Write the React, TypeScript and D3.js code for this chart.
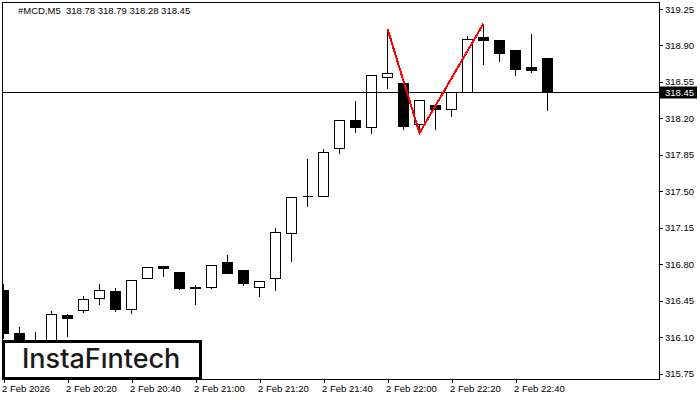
import * as React from 'react'
import { useEffect, useRef } from 'react'
import * as d3 from 'd3'

const width = 700
const height = 400

// candle values, one per 5 minutes from 20:00
const opens = [316.55, 316.14, 316.03, 316.03, 316.31, 316.36, 316.48, 316.54, 316.37, 316.67, 316.78, 316.73, 316.58, 316.58, 316.82, 316.75, 316.58, 316.67, 317.10, 317.46, 317.46, 317.92, 318.18, 318.12, 318.60, 318.54, 318.15, 318.33, 318.29, 318.45, 318.98, 318.95, 318.86, 318.69, 318.78]
const highs = [316.62, 316.21, 316.16, 316.36, 316.33, 316.51, 316.62, 316.58, 316.65, 316.78, 316.78, 316.74, 316.61, 316.79, 316.90, 316.75, 316.64, 317.16, 317.46, 317.82, 317.92, 318.19, 318.38, 318.62, 319.06, 318.54, 318.38, 318.33, 318.46, 319.00, 319.11, 318.95, 318.86, 319.02, 318.79]
const lows = [316.09, 315.98, 315.98, 316.00, 316.11, 316.34, 316.42, 316.35, 316.33, 316.67, 316.69, 316.56, 316.42, 316.57, 316.72, 316.60, 316.50, 316.55, 316.83, 317.36, 317.46, 317.87, 318.07, 318.06, 318.49, 318.10, 318.06, 318.10, 318.22, 318.45, 318.72, 318.75, 318.62, 318.65, 318.28]
const closes = [316.14, 316.03, 316.06, 316.32, 316.28, 316.47, 316.55, 316.37, 316.65, 316.77, 316.76, 316.57, 316.57, 316.79, 316.72, 316.62, 316.64, 317.11, 317.45, 317.46, 317.88, 318.18, 318.12, 318.62, 318.64, 318.13, 318.38, 318.29, 318.45, 318.96, 318.95, 318.83, 318.67, 318.66, 318.45]

const priceTicks = [319.25, 318.9, 318.55, 318.2, 317.85, 317.5, 317.15, 316.8, 316.45, 316.1, 315.75]
const timeTicks = [0, 4, 8, 12, 16, 20, 24, 28, 32]
const patternIndex = [24, 26, 30]
const patternPrice = [319.06, 318.06, 319.11]
const lastPrice = 318.45
const title = '#MCD,M5  318.78 318.79 318.28 318.45'

const startTime = new Date(2026, 1, 2, 20, 0)
const timeAt = (i: number) => d3.timeMinute.offset(startTime, i * 5)

const labelFont = '"Liberation Sans", sans-serif'

export default function App() {
  const ref = useRef<SVGSVGElement | null>(null)

  useEffect(() => {
    const svg = d3.select(ref.current!)
    svg.selectAll('*').remove()

    const x = d3.scaleTime().domain([startTime, timeAt(1)]).range([3.5, 19.5])
    const y = d3.scaleLinear().domain([319.25, 315.75]).range([9, 373.7])
    const py = (v: number) => Math.round(y(v)) + 0.5

    svg.append('clipPath').attr('id', 'plot')
      .append('rect').attr('x', 2).attr('y', 3).attr('width', 657).attr('height', 376)

    const plot = svg.append('g').attr('clip-path', 'url(#plot)').attr('shape-rendering', 'crispEdges')

    const candle = plot.selectAll('g.candle').data(d3.range(opens.length)).enter().append('g').attr('class', 'candle')

    candle.append('line')
      .attr('x1', i => x(timeAt(i))).attr('x2', i => x(timeAt(i)))
      .attr('y1', i => py(highs[i])).attr('y2', i => py(lows[i]))
      .attr('stroke', '#000')

    // a path and not a rect, so that a doji with open == close still draws its dash
    candle.append('path')
      .attr('d', i => {
        const left = x(timeAt(i)) - 5
        const top = py(Math.max(opens[i], closes[i]))
        const bottom = py(Math.min(opens[i], closes[i]))
        return `M${left},${top}H${left + 10}V${bottom}H${left}Z`
      })
      .attr('fill', i => (closes[i] > opens[i] ? '#fff' : '#000'))
      .attr('stroke', '#000')

    // current price line
    plot.append('line')
      .attr('x1', 2).attr('x2', 659)
      .attr('y1', py(lastPrice) - 0.5).attr('y2', py(lastPrice) - 0.5)
      .attr('stroke', '#000')

    // the red pattern
    const red = d3.line<number>().x(i => x(timeAt(patternIndex[i]))).y(i => y(patternPrice[i]))
    plot.append('path')
      .attr('d', red(d3.range(patternIndex.length)))
      .attr('fill', 'none').attr('stroke', '#ff0000').attr('stroke-width', 2)

    // frame
    svg.append('rect')
      .attr('x', 2.5).attr('y', 2.5).attr('width', 656.5).attr('height', 376.5)
      .attr('fill', 'none').attr('stroke', '#000').attr('shape-rendering', 'crispEdges')

    const yAxis = d3.axisRight(y).tickValues(priceTicks).tickFormat(d => d3.format('.2f')(d as number)).tickSize(4).tickPadding(2)
    const gy = svg.append('g').attr('transform', 'translate(659,0)').call(yAxis)
    gy.select('.domain').remove()
    gy.selectAll('line').attr('stroke', '#000').attr('shape-rendering', 'crispEdges')
    gy.selectAll('text').attr('fill', '#000').attr('font-family', labelFont).attr('font-size', 9.5)

    const xAxis = d3.axisBottom(x)
      .tickValues(timeTicks.map(timeAt))
      .tickFormat((d, i) => (i === 0 ? d3.timeFormat('%-d %b %Y')(d as Date) : d3.timeFormat('%-d %b %H:%M')(d as Date)))
      .tickSize(4).tickPadding(2)
    const gx = svg.append('g').attr('transform', 'translate(0,379)').call(xAxis)
    gx.select('.domain').remove()
    gx.selectAll('line').attr('stroke', '#000').attr('shape-rendering', 'crispEdges')
    gx.selectAll('text').attr('fill', '#000').attr('font-family', labelFont).attr('font-size', 9.5)
      .attr('text-anchor', 'start').attr('dx', -2)

    // last price tag
    svg.append('rect')
      .attr('x', 660).attr('y', py(lastPrice) - 6).attr('width', 37).attr('height', 12)
      .attr('fill', '#000')
    svg.append('text')
      .attr('x', 665).attr('y', py(lastPrice) + 3.5)
      .attr('fill', '#fff').attr('font-family', labelFont).attr('font-size', 9.5)
      .text(d3.format('.2f')(lastPrice))

    svg.append('text')
      .attr('x', 18).attr('y', 14)
      .attr('fill', '#000').attr('font-family', labelFont).attr('font-size', 9.5)
      .style('white-space', 'pre')
      .text(title)

    // logo box
    svg.append('rect')
      .attr('x', 3.5).attr('y', 341.5).attr('width', 197).attr('height', 37)
      .attr('fill', '#fff').attr('stroke', '#000').attr('stroke-width', 3)
      .attr('shape-rendering', 'crispEdges')
    svg.append('text')
      .attr('x', 22).attr('y', 368)
      .attr('fill', '#1a1a1a').attr('font-family', 'Inter, sans-serif').attr('font-size', 27).attr('font-weight', 500)
      .text('InstaFıntech')
  }, [])

  return (
    <svg
      ref={ref}
      width={width}
      height={height}
      style={{ position: 'fixed', left: 0, top: 0, background: '#fff' }}
    />
  )
}
